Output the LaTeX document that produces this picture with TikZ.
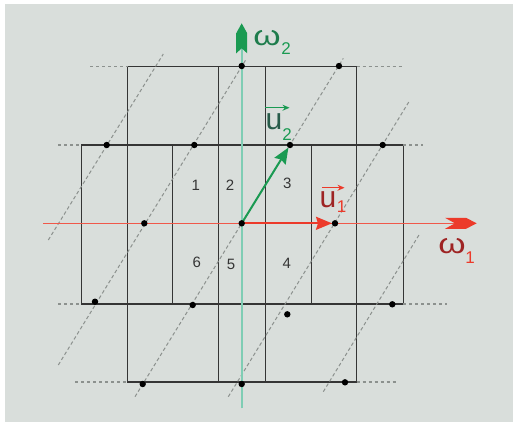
\documentclass[tikz,border=0pt]{standalone}
\usepackage{fontspec}
\setmainfont{Liberation Sans}
\usepackage{tikz}
\usetikzlibrary{arrows.meta}
\definecolor{bggray}{HTML}{D9DEDB}
\definecolor{cellline}{HTML}{353535}
\definecolor{latgray}{HTML}{8C918E}
\definecolor{axred}{HTML}{F0584A}
\definecolor{headred}{HTML}{EC3A2A}
\definecolor{axgreen}{HTML}{7FCDB4}
\definecolor{headgreen}{HTML}{1A9A52}
\definecolor{txtred}{HTML}{9E2424}
\definecolor{txtgreen}{HTML}{1E7C4C}
\definecolor{txtteal}{HTML}{285C4A}
\tikzset{
    cell/.style={draw=cellline, line width=1.5pt},
    lattice/.style={draw=latgray, line width=1pt, dash pattern=on 3.5pt off 2.5pt},
    extend/.style={draw=latgray, line width=1.1pt, dash pattern=on 3pt off 3pt},
    cellno/.style={inner sep=0pt, font=\fontsize{15}{15}\selectfont, text=cellline},
    vec/.style={line width=2pt, shorten >=3pt, -{Stealth[length=16pt, width=13pt, inset=2pt]}},
    vecbar/.style={line width=1.4pt, -{Stealth[length=7pt, width=6pt]}},
    biglbl/.style={inner sep=0pt, font=\fontsize{28}{28}\selectfont},
    sublbl/.style={inner sep=0pt, font=\fontsize{17}{17}\selectfont}
}

\begin{document}
\begin{tikzpicture}[x=1pt, y=-1pt]

% Background
\fill[white] (0,0) rectangle (516,424);
\fill[bggray] (5,4) rectangle (513,422);
\useasboundingbox (0,0) rectangle (516,424);

% Cells (tall block and wide block)
\draw[cell] (127.7,66.7) rectangle (356.7,382);
\draw[cell] (218.3,66.7) -- (218.3,382) (265.7,66.7) -- (265.7,382);
\draw[cell] (81.7,145) rectangle (403.3,304);
\draw[cell] (172.3,145) -- (172.3,304) (311.7,145) -- (311.7,304);

% Dashed continuations of the rows
\draw[extend] (90,66.7) -- (127.7,66.7) (356.7,66.7) -- (403.3,66.7);
\draw[extend] (58.3,145) -- (81.7,145) (403.3,145) -- (423.3,145);
\draw[extend] (58.3,304) -- (81.7,304) (403.3,304) -- (446.7,304);
\draw[extend] (75,382) -- (127.7,382) (356.7,382) -- (398.3,382);

% Lattice lines along u2
\foreach \xa/\ya/\xb/\yb in {48.3/240/163.3/54, 58.3/365/246.7/58.3, 135/396.7/343.3/58.3,
    228.3/396.7/410/100, 323.3/391.7/420/233.3}
    \draw[lattice] (\xa,\ya) -- (\xb,\yb);

% Region numbers
\node[cellno] (n1) at (195.7,185.7) {1};
\node[cellno] (n2) at (230,185.7) {2};
\node[cellno] (n3) at (287.3,183.3) {3};
\node[cellno] (n4) at (286.7,263.3) {4};
\node[cellno] (n5) at (231,264) {5};
\node[cellno] (n6) at (196.7,262.7) {6};

% Axes
\coordinate (w1start) at (43.3,223.3);
\coordinate (w1tip) at (476.7,223.3);
\coordinate (w2start) at (241.7,408.3);
\coordinate (w2tip) at (241.7,23.3);
\draw[axred, line width=1.3pt] (w1start) -- ([xshift=-20pt]w1tip);
\fill[headred] (w1tip) -- ++(-10.7,-5.5) -- ++(-21,0) -- ++(10,5.5) -- ++(-10,5.5) -- ++(21,0) -- cycle;
\draw[axgreen, line width=1.6pt] (w2start) -- ([yshift=-20pt]w2tip);
\fill[headgreen] (w2tip) -- ++(5.5,10) -- ++(0,20) -- ++(-5.5,-5) -- ++(-5.5,5) -- ++(0,-20) -- cycle;

% Basis vectors
\coordinate (o) at (241.7,223.3);
\coordinate (u1) at (335,223.3);
\coordinate (u2) at (290,145);
\draw[vec, headred] (o) -- (u1);
\draw[vec, headgreen] (o) -- (u2);

% Lattice points
\foreach \p in {o,u1,u2}
    \fill (\p) circle (3.2pt);
\foreach \x/\y in {241.7/66, 339/66, 106.7/145, 194.3/145, 382.7/145, 144.3/223.3,
    95/301.7, 192.7/305, 287.3/314.3, 392.3/304.3, 142.7/384, 241.7/384, 345/382.3}
    \fill (\x,\y) circle (3.2pt);

% Labels
\node[biglbl, text=txtgreen, xscale=1.25] (w2lbl) at (267,38.3) {ω};
\node[sublbl, text=headgreen] (w2sub) at (286,48.5) {2};
\node[biglbl, text=txtred, xscale=1.25] (w1lbl) at (452,245.8) {ω};
\node[sublbl, text=headred] (w1sub) at (470,258) {1};
\node[biglbl, font=\fontsize{30}{30}\selectfont, text=txtteal] (u2lbl) at (274,122) {u};
\node[sublbl, text=headgreen] (u2sub) at (287,134.5) {2};
\draw[vecbar, headgreen] ([yshift=6pt]u2lbl.north west) -- ([xshift=7pt, yshift=6pt]u2lbl.north east);
\node[biglbl, font=\fontsize{30}{30}\selectfont, text=txtred] (u1lbl) at (328,199.5) {u};
\node[sublbl, text=headred] (u1sub) at (341.5,206.5) {1};
\draw[vecbar, headred] ([xshift=3pt, yshift=3.5pt]u1lbl.north west) -- ([xshift=8pt, yshift=3.5pt]u1lbl.north east);

\end{tikzpicture}
\end{document}
